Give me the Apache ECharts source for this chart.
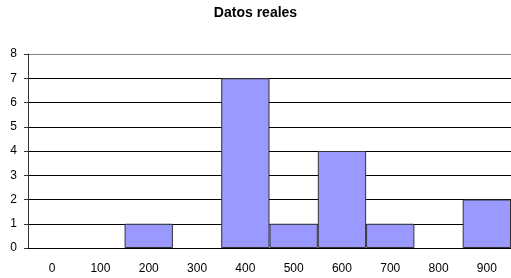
<!DOCTYPE html>
<html>
<head>
<meta charset="utf-8">
<script src="https://cdn.jsdelivr.net/npm/echarts@6/dist/echarts.min.js"></script>
<style>
  html, body { margin: 0; padding: 0; background: #fff; }
  #chart { width: 511px; height: 278px; }
</style>
</head>
<body>
<div id="chart"></div>
<script>
// categorías (clases) y frecuencias
const categories = ['0', '100', '200', '300', '400', '500', '600', '700', '800', '900']
const counts = [0, 0, 1, 0, 7, 1, 4, 1, 0, 2]

const chart = echarts.init(document.getElementById('chart'))

const option = {
  animation: false,
  textStyle: { fontFamily: 'Liberation Sans, Arial, sans-serif' },
  title: {
    text: 'Datos reales',
    left: 'center',
    top: 1,
    textStyle: { fontSize: 14, fontWeight: 'bold', color: '#000' }
  },
  grid: { left: 28, right: 0, top: 54, bottom: 30 },
  xAxis: {
    type: 'category',
    data: categories,
    axisLine: { lineStyle: { color: '#000', width: 1 } },
    axisTick: { length: 4, lineStyle: { color: '#333' } },
    axisLabel: { color: '#000', fontSize: 12, margin: 15 }
  },
  yAxis: {
    type: 'value',
    min: 0,
    max: 8,
    interval: 1,
    axisLine: { show: true, lineStyle: { color: '#333', width: 1 } },
    axisTick: { show: true, length: 4, lineStyle: { color: '#333' } },
    axisLabel: { color: '#000', fontSize: 12, margin: 11 },
    splitLine: {
      lineStyle: {
        color: ['#000', '#000', '#000', '#000', '#000', '#000', '#000', '#000', '#808080'],
        width: 1
      }
    }
  },
  series: [
    {
      type: 'bar',
      data: counts.map(v => (v === 0 ? '-' : v)),
      barWidth: '100%',
      itemStyle: { color: '#9999ff', borderColor: '#333', borderWidth: 1 }
    }
  ]
}

chart.setOption(option)
</script>
</body>
</html>
